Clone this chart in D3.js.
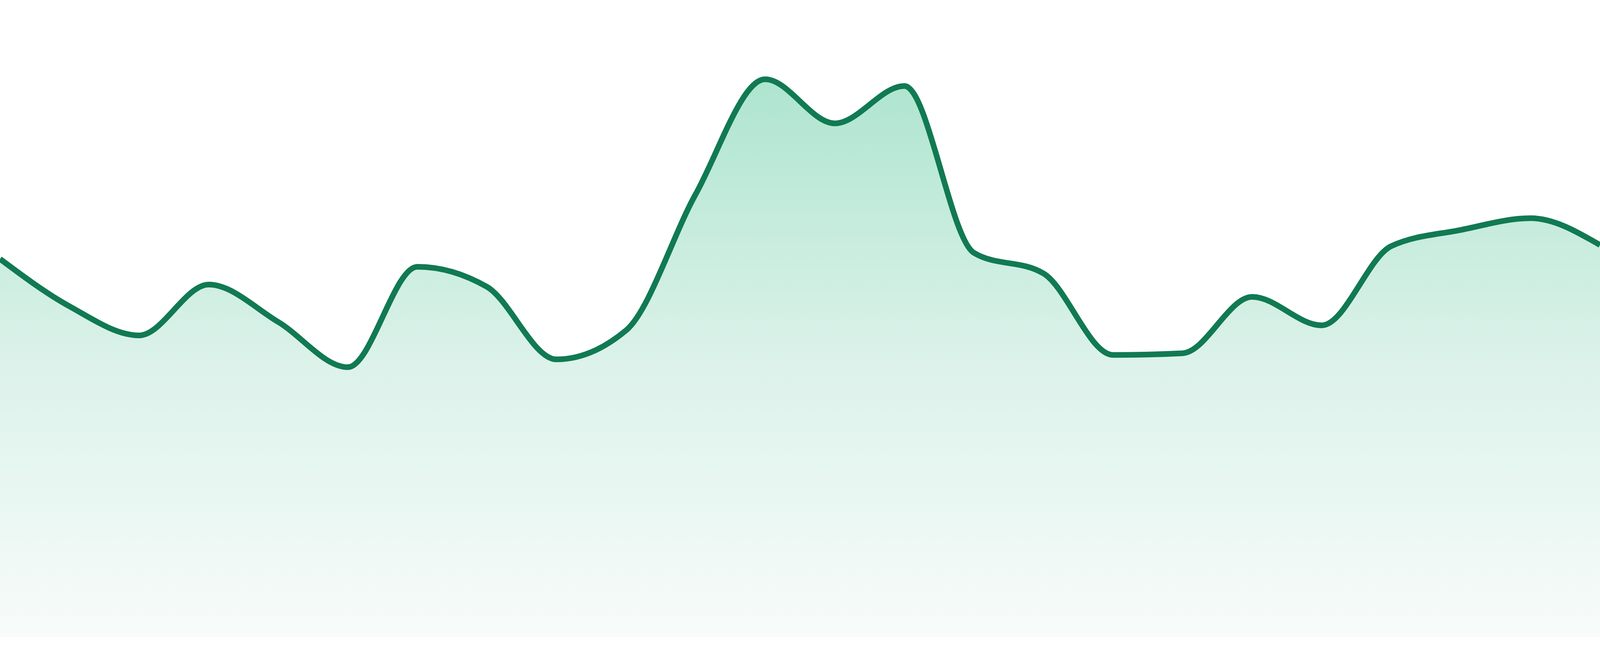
<!DOCTYPE html>
<html>
<head>
<meta charset="utf-8">
<script src="https://cdn.jsdelivr.net/npm/d3@7"></script>
<style>
  html, body { margin: 0; padding: 0; background: #ffffff; overflow: hidden; }
  #chart { position: fixed; left: 0; top: 0; width: 100vw; height: 100vh; }
  #chart svg { display: block; }
</style>
</head>
<body>
<div id="chart"></div>
<script>
// Area sparkline, no axes
// =======================

// Data (0..100 scale)
var points = d3.range(24);
var values = [67.8, 59.3, 54.1, 63.2, 56.5, 48.4, 66.4, 62.8, 49.8, 55.0, 79.4, 100,
              92.1, 98.8, 68.9, 65.2, 50.6, 50.9, 61.0, 55.9, 70.1, 73.0, 75.1, 70.3];

// Size: take whatever the window gives us
var width = window.innerWidth || 4800;
var height = window.innerHeight || 1680;

// Spacing (as share of the height, picture was 1680 tall)
var baseLine = height * 1632 / 1680;
var topLine = height * 203 / 1680;
var lineWidth = Math.max(2, height * 14.5 / 1680);

var svg = d3.select("#chart")
    .append("svg")
    .attr("width", width)
    .attr("height", height);

var x = d3.scaleLinear()
    .domain([0, points.length - 1])
    .range([0, width]);

var y = d3.scaleLinear()
    .domain([0, 100])
    .range([baseLine, topLine]);

// Fill gradient
var grad = svg.append("defs")
    .append("linearGradient")
    .attr("id", "fillGrad")
    .attr("gradientUnits", "userSpaceOnUse")
    .attr("x1", 0).attr("x2", 0)
    .attr("y1", topLine).attr("y2", baseLine);

grad.append("stop").attr("offset", 0).attr("stop-color", "#aee5cf");
grad.append("stop").attr("offset", 0.51).attr("stop-color", "#dcf2ea");
grad.append("stop").attr("offset", 0.75).attr("stop-color", "#e9f7f2");
grad.append("stop").attr("offset", 1).attr("stop-color", "#f8fbfa");

var area = d3.area()
    .x(function(d) { return x(d); })
    .y0(baseLine)
    .y1(function(d) { return y(values[d]); })
    .curve(d3.curveMonotoneX);

var line = d3.line()
    .x(function(d) { return x(d); })
    .y(function(d) { return y(values[d]); })
    .curve(d3.curveMonotoneX);

svg.append("path")
    .datum(points)
    .attr("d", area)
    .attr("fill", "url(#fillGrad)");

svg.append("path")
    .datum(points)
    .attr("d", line)
    .attr("fill", "none")
    .attr("stroke", "#117a52")
    .attr("stroke-width", lineWidth)
    .attr("stroke-linejoin", "round");
</script>
</body>
</html>
